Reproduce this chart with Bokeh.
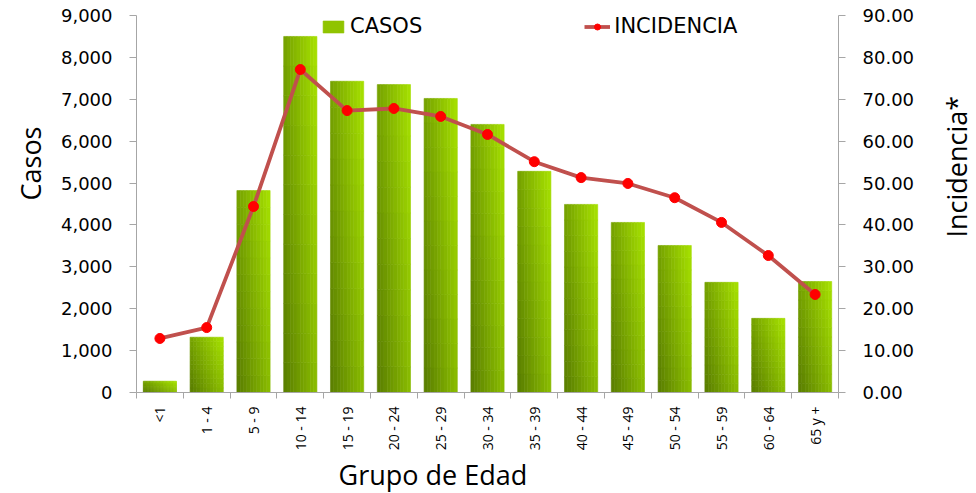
import numpy as np
from bokeh.plotting import figure
from bokeh.layouts import row
from bokeh.models import (ColumnDataSource, Range1d, LinearAxis, FixedTicker,
                          NumeralTickFormatter, Legend, LegendItem, Title, Label)
from bokeh.embed import file_html
from bokeh.resources import INLINE

# ---- data ----
groups = ["<1", "1 - 4", "5 - 9", "10 - 14", "15 - 19", "20 - 24", "25 - 29",
          "30 - 34", "35 - 39", "40 - 44", "45 - 49", "50 - 54", "55 - 59",
          "60 - 64", "65 y +"]
casos = [270, 1320, 4820, 8500, 7430, 7350, 7020, 6400, 5280, 4490, 4060,
         3510, 2630, 1770, 2650]
incidencia = [12.9, 15.5, 44.4, 77.1, 67.3, 67.8, 65.9, 61.6, 55.1, 51.3,
              49.9, 46.5, 40.6, 32.7, 23.4]
casos_ticks = [0, 1000, 2000, 3000, 4000, 5000, 6000, 7000, 8000, 9000]
incid_ticks = [0, 10, 20, 30, 40, 50, 60, 70, 80, 90]

n = len(groups)
centers = [i + 0.5 for i in range(n)]
bounds = list(range(n + 1))

# ---- main figure ----
p = figure(width=936, height=493, output_backend="svg", toolbar_location=None,
           x_range=Range1d(0, n), y_range=Range1d(0, 9000),
           min_border_left=136, min_border_right=98, min_border_top=15,
           min_border_bottom=101)
p.outline_line_color = None
p.xgrid.grid_line_color = None
p.ygrid.grid_line_color = None
p.extra_y_ranges = {"inc": Range1d(0, 90)}

# ---- gradient bars (built from the casos values) ----
bw = 0.71
k, m = 10, 12
dark = np.array([92, 128, 0])
light = np.array([164, 222, 0])
xs, ws, bots, tops, cols = [], [], [], [], []
for i, v in enumerate(casos):
    for c in range(k):
        for r in range(m):
            t = 0.62 * c / (k - 1) + 0.38 * r / (m - 1)
            rgb = (dark + (light - dark) * t).astype(int)
            xs.append(centers[i] - bw / 2 + (c + 0.5) * bw / k)
            ws.append(bw / k)
            bots.append(v * r / m)
            tops.append(v * (r + 1) / m)
            cols.append("#%02x%02x%02x" % tuple(rgb))
bar_src = ColumnDataSource(dict(x=xs, w=ws, bottom=bots, top=tops, color=cols))
bars = p.vbar(x="x", width="w", bottom="bottom", top="top", source=bar_src,
              fill_color="color", line_color="color", line_width=0.6)

# ---- incidence line ----
inc_src = ColumnDataSource(dict(x=centers, y=incidencia))
line = p.line("x", "y", source=inc_src, y_range_name="inc",
              line_color="#c0504d", line_width=3.8)
pts = p.scatter("x", "y", source=inc_src, y_range_name="inc", size=10,
                fill_color="#ff0000", line_color="#ff0000")

axis_col = "#a6a6a6"

# ---- x axis ----
xa = p.xaxis[0]
xa.ticker = FixedTicker(ticks=centers, minor_ticks=bounds)
xa.major_label_overrides = {c: g for c, g in zip(centers, groups)}
xa.major_tick_out = 0
xa.major_tick_in = 0
xa.minor_tick_out = 6
xa.minor_tick_in = 0
xa.minor_tick_line_color = axis_col
xa.axis_line_color = axis_col
xa.major_label_orientation = np.pi / 2
xa.major_label_standoff = 8
xa.major_label_text_font = "Open Sans"
xa.major_label_text_font_size = "14px"
xa.major_label_text_color = "#000000"

# ---- left axis ----
ya = p.yaxis[0]
ya.ticker = FixedTicker(ticks=casos_ticks)
ya.formatter = NumeralTickFormatter(format="0,0")
ya.minor_tick_line_color = None
ya.major_tick_out = 7
ya.major_tick_in = 0
ya.major_tick_line_color = axis_col
ya.axis_line_color = axis_col
ya.major_label_standoff = 17
ya.major_label_text_font = "DejaVu Sans"
ya.major_label_text_font_size = "18px"
ya.major_label_text_color = "#000000"

# ---- right axis ----
ra = LinearAxis(y_range_name="inc", ticker=FixedTicker(ticks=incid_ticks),
                formatter=NumeralTickFormatter(format="0.00"))
ra.minor_tick_line_color = None
ra.major_tick_out = 7
ra.major_tick_in = 0
ra.major_tick_line_color = axis_col
ra.axis_line_color = axis_col
ra.major_label_standoff = 17
ra.major_label_text_font = "DejaVu Sans"
ra.major_label_text_font_size = "18px"
ra.major_label_text_color = "#000000"
p.add_layout(ra, "right")

# ---- axis titles (left / bottom) ----
tkw = dict(text_font="Open Sans", text_font_size="27px",
           text_font_style="normal", text_color="#000000", align="left")
p.add_layout(Title(text="Casos", offset=192, standoff=18, **tkw), "left")
p.add_layout(Title(text="Grupo de Edad", offset=202, standoff=0, **tkw), "below")

# ---- legend ----
legend = Legend(items=[LegendItem(label="CASOS", renderers=[bars], index=k * m // 2 + m - 1),
                       LegendItem(label="INCIDENCIA", renderers=[line, pts])],
                orientation="horizontal", location=(184, 354),
                padding=0, margin=0, spacing=162, label_standoff=4,
                glyph_width=26, glyph_height=15, label_height=10,
                label_text_font="DejaVu Sans", label_text_font_size="21px",
                label_text_color="#000000",
                background_fill_alpha=0, border_line_alpha=0)
p.add_layout(legend)

# ---- right strip carrying the secondary-axis title ----
s = figure(width=40, height=493, output_backend="svg", toolbar_location=None,
           x_range=Range1d(0, 1), y_range=Range1d(0, 1),
           x_axis_type=None, y_axis_type=None, min_border=0)
s.outline_line_color = None
s.xgrid.grid_line_color = None
s.ygrid.grid_line_color = None
s.add_layout(Label(x=20, y=155, x_units="screen", y_units="screen",
                   text="Incidencia*", angle=np.pi / 2, text_align="left",
                   text_baseline="alphabetic", text_font="Open Sans",
                   text_font_size="27px", text_color="#000000"))

layout = row(p, s, spacing=0)
open("out.html", "w").write(file_html(layout, INLINE))
